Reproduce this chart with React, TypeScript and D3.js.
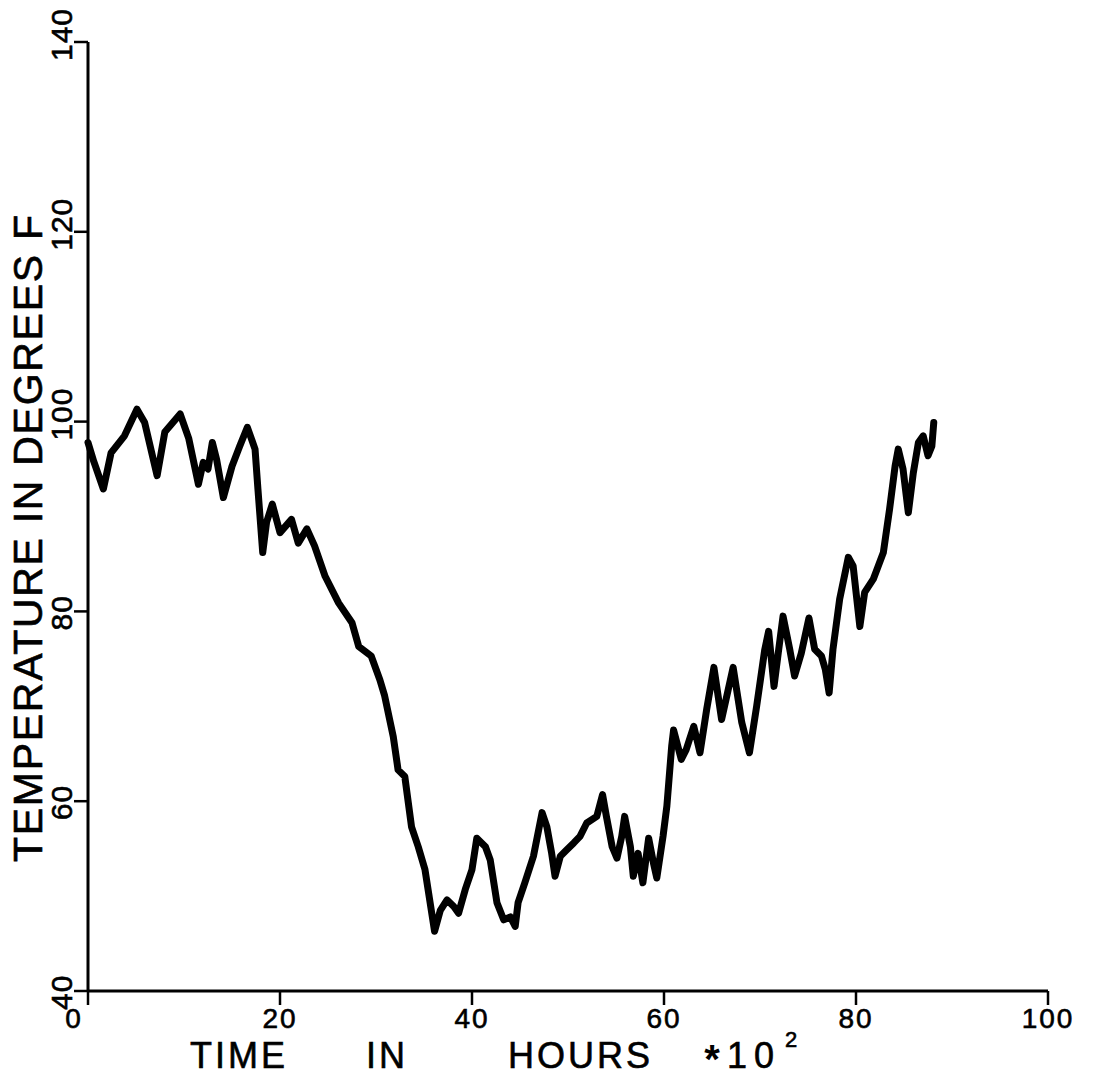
import * as d3 from 'd3';

// time in hours (*10^2) and temperature in degrees F
const hours = [
  0.0, 0.6, 1.6, 2.4, 3.8, 5.1, 5.9, 7.2, 8.0, 9.6, 10.5, 11.5, 12.0, 12.5, 12.95, 13.4, 14.1, 15.0,
  15.8, 16.6, 17.4, 17.7, 18.2, 18.6, 19.2, 20.0, 21.2, 21.9, 22.8, 23.6, 24.7, 26.1, 27.5, 28.2,
  29.5, 30.4, 30.9, 31.8, 32.3, 33.0, 33.7, 34.4, 35.1, 36.1, 36.7, 37.4, 38.1, 38.6, 39.3, 40.0,
  40.5, 41.4, 41.9, 42.6, 43.3, 44.0, 44.5, 44.8, 45.5, 46.4, 47.3, 47.8, 48.3, 48.65, 49.2, 49.9,
  50.6, 51.25, 51.95, 53.0, 53.6, 54.0, 54.6, 55.1, 55.6, 55.9, 56.5, 56.8, 57.3, 57.8, 58.4, 58.9,
  59.25, 59.9, 60.3, 60.8, 61.0, 61.8, 62.3, 63.1, 63.75, 64.45, 65.2, 66.0, 67.2, 68.1, 68.9, 69.65,
  70.5, 70.9, 71.46, 71.9, 72.4, 73.1, 73.6, 74.3, 75.1, 75.7, 76.4, 76.8, 77.2, 77.6, 78.3, 79.2,
  79.7, 80.4, 80.9, 81.8, 82.85, 83.5, 84.07, 84.4, 84.9, 85.45, 85.97, 86.5, 87.0, 87.5, 87.9, 88.1,
];
const tempF = [
  97.8, 95.8, 92.9, 96.7, 98.5, 101.3, 99.9, 94.3, 98.9, 100.8, 98.2, 93.4, 95.7, 95.0, 97.8, 96.0, 92.0, 95.3,
  97.4, 99.4, 97.1, 92.9, 86.2, 89.4, 91.3, 88.3, 89.7, 87.2, 88.7, 86.9, 83.7, 80.9, 78.8, 76.3,
  75.3, 72.8, 71.1, 66.8, 63.3, 62.6, 57.3, 55.2, 52.8, 46.3, 48.5, 49.6, 48.9, 48.2, 50.7, 52.8,
  56.1, 55.2, 53.8, 49.3, 47.5, 47.8, 46.8, 49.3, 51.4, 54.2, 58.8, 57.3, 54.5, 52.1, 54.2, 54.9,
  55.6, 56.3, 57.7, 58.4, 60.7, 58.4, 55.2, 54.0, 56.3, 58.4, 55.2, 52.1, 54.5, 51.4, 56.1, 53.5,
  51.9, 56.3, 59.5, 65.8, 67.5, 64.4, 65.4, 67.9, 65.1, 69.7, 74.1, 68.6, 74.1, 68.3, 65.1, 70.0,
  76.0, 77.9, 72.1, 75.6, 79.5, 76.0, 73.2, 75.6, 79.3, 76.0, 75.3, 73.9, 71.4, 76.0, 81.3, 85.7,
  84.8, 78.4, 82.0, 83.4, 86.2, 90.8, 95.3, 97.1, 95.0, 90.4, 94.6, 97.8, 98.5, 96.4, 97.4, 99.9,
];

const xTicks = [0, 20, 40, 60, 80, 100];
const yTicks = [40, 60, 80, 100, 120, 140];
const xTitleWords = ['TIME', 'IN', 'HOURS'];
const xUnit = '10';
const xUnitExp = '2';
const yTitle = 'TEMPERATURE IN DEGREES F';

const font = '"Liberation Sans", Arial, sans-serif';

export default function App() {
  const width = 1100;
  const height = 1080;
  const x = d3.scaleLinear().domain([0, 100]).range([88, 1048]);
  const y = d3.scaleLinear().domain([40, 140]).range([991, 42]);

  const line = d3
    .line<number>()
    .x((_, i) => x(hours[i]))
    .y((d) => y(d));

  const ink = '#000';
  const wordX = [190, 366, 508];
  // plotter pen: slightly heavier glyphs
  const pen = { fill: ink, stroke: ink, strokeWidth: 0.6 };

  return (
    <svg
      width={width}
      height={height}
      style={{ position: 'absolute', left: 0, top: 0, background: '#fff' }}
      fontFamily={font}
    >
      {/* axes */}
      <line x1={x(0)} x2={x(100)} y1={y(40)} y2={y(40)} stroke={ink} strokeWidth={3} />
      <line x1={x(0)} x2={x(0)} y1={y(140)} y2={y(40)} stroke={ink} strokeWidth={3} />

      {xTicks.map((t, i) => (
        <g key={'x' + t}>
          <line x1={x(t)} x2={x(t)} y1={y(40)} y2={y(40) + 14} stroke={ink} strokeWidth={2.5} />
          <text
            x={x(t) + (i === 0 ? -14 : 0)}
            y={1028}
            textAnchor="middle"
            fontSize={28}
            letterSpacing={2}
            {...pen}
          >
            {t}
          </text>
        </g>
      ))}

      {yTicks.map((t) => (
        <g key={'y' + t}>
          <line x1={x(0) - 14} x2={x(0)} y1={y(t)} y2={y(t)} stroke={ink} strokeWidth={2.5} />
          <text
            transform={`translate(72,${y(t) + 19}) rotate(-90)`}
            textAnchor="start"
            fontSize={30}
            letterSpacing={1}
            {...pen}
          >
            {t}
          </text>
        </g>
      ))}

      {/* axis titles */}
      {xTitleWords.map((w, i) => (
        <text key={w} x={wordX[i]} y={1068} fontSize={36} letterSpacing={3} {...pen}>
          {w}
        </text>
      ))}
      <text x={712} y={1073} textAnchor="middle" fontSize={40} fontWeight="bold" fill={ink}>
        *
      </text>
      <text x={727} y={1068} fontSize={36} letterSpacing={7} {...pen}>
        {xUnit}
      </text>
      <text x={785} y={1047} fontSize={22} {...pen}>
        {xUnitExp}
      </text>

      <text
        transform="translate(42,862) rotate(-90)"
        fontSize={41}
        textLength={647}
        lengthAdjust="spacing"
        {...pen}
      >
        {yTitle}
      </text>

      {/* temperature trace */}
      <path
        d={line(tempF) ?? ''}
        fill="none"
        stroke={ink}
        strokeWidth={7}
        strokeLinejoin="round"
        strokeLinecap="round"
      />
    </svg>
  );
}
